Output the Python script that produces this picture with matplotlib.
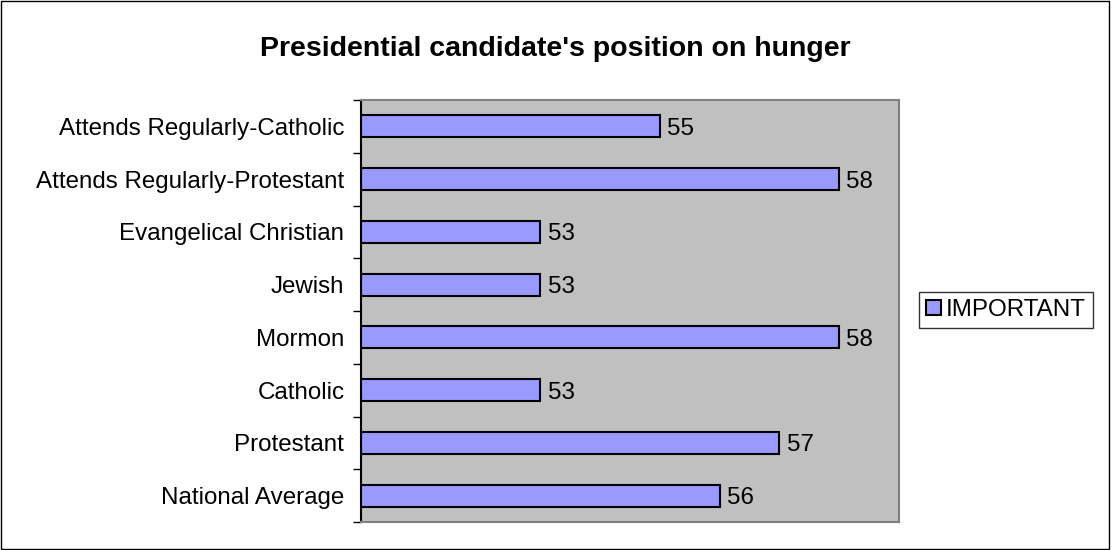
import matplotlib.pyplot as plt
import numpy as np
from matplotlib.patches import Rectangle

plt.rcParams['font.family'] = ['Liberation Sans', 'DejaVu Sans']

# Datos (de abajo hacia arriba)
categorias = ['National Average', 'Protestant', 'Catholic', 'Mormon', 'Jewish',
              'Evangelical Christian', 'Attends Regularly-Protestant',
              'Attends Regularly-Catholic']
valores = [56, 57, 53, 58, 53, 53, 58, 55]
serie = 'IMPORTANT'
titulo = "Presidential candidate's position on hunger"

fig = plt.figure(figsize=(11.11, 5.5), dpi=100)
ax = fig.add_axes([361 / 1111, 1 - 522 / 550, (899 - 361) / 1111, (522 - 100) / 550])
ax.set_facecolor('#C0C0C0')

y = np.arange(len(categorias))
xmin = 50
barras = ax.barh(y, np.array(valores) - xmin, left=xmin, height=0.42,
                 color='#9999FF', edgecolor='black', linewidth=1.5, label=serie)
for yi, v in zip(y, valores):
    ax.text(v + 0.12, yi, str(v), va='center_baseline', ha='left', fontsize=17.4)

ax.set_xlim(50, 59)
ax.set_ylim(-0.5, len(categorias) - 0.5)
ax.set_xticks([])
ax.set_yticks(y)
ax.set_yticklabels(categorias, fontsize=17.4, va='center_baseline')
ax.tick_params(axis='y', which='major', length=0, pad=12)
ax.set_yticks(np.arange(-0.5, len(categorias), 1), minor=True)
ax.tick_params(axis='y', which='minor', length=6, width=1, color='black')

for lado in ['top', 'right', 'bottom']:
    ax.spines[lado].set_color('#808080')
    ax.spines[lado].set_linewidth(1.5)
ax.spines['left'].set_color('black')
ax.spines['left'].set_linewidth(1.5)

fig.text(555 / 1111, 1 - 56 / 550, titulo, ha='center', va='baseline',
         fontsize=20.5, fontweight='bold')

leg = fig.legend(handles=[barras], labels=[serie], loc='center',
                 bbox_to_anchor=(1006 / 1111, 1 - 310 / 550), fontsize=17.4,
                 frameon=True, fancybox=False, edgecolor='black',
                 handlelength=0.6, handleheight=0.6, handletextpad=0.2,
                 borderpad=0.3, borderaxespad=0)
leg.get_frame().set_linewidth(1)

fig.patches.append(Rectangle((0.001, 0.002), 0.997, 0.996, transform=fig.transFigure,
                             fill=False, edgecolor='black', linewidth=1))

fig.savefig('out.png', dpi=100)
